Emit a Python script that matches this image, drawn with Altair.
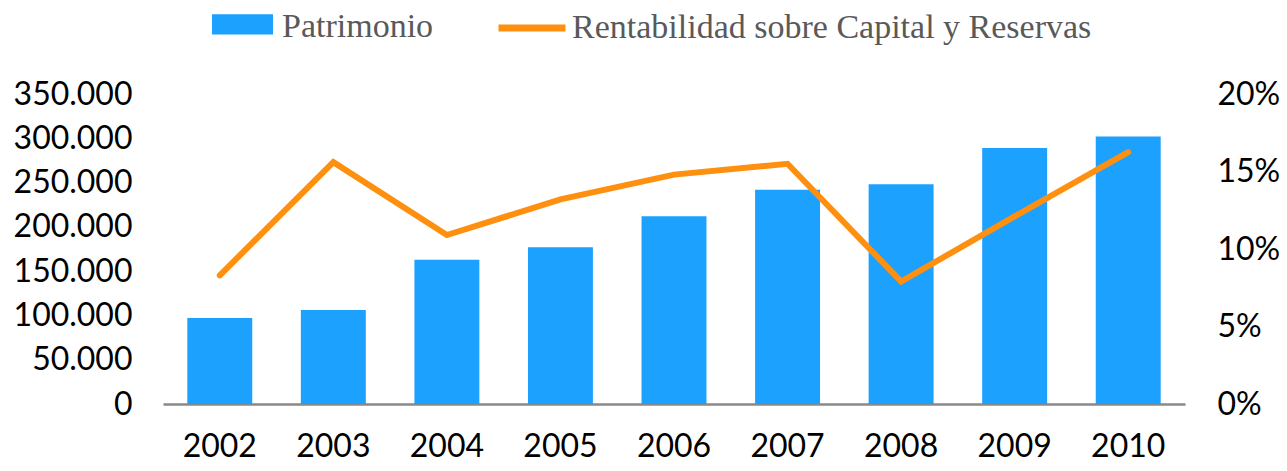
import altair as alt
import pandas as pd

years = ["2002", "2003", "2004", "2005", "2006", "2007", "2008", "2009", "2010"]
patrimonio = [97000, 106000, 163000, 177000, 212000, 242000, 248000, 289000, 302000]
rentabilidad = [0.083, 0.156, 0.109, 0.132, 0.148, 0.155, 0.079, 0.121, 0.1625]
serie_barras = "Patrimonio"
serie_linea = "Rentabilidad sobre Capital y Reservas"
left_ticks = [0, 50000, 100000, 150000, 200000, 250000, 300000, 350000]
right_ticks = [0, 0.05, 0.10, 0.15, 0.20]

df = pd.DataFrame({
    "year": years,
    "patrimonio": patrimonio,
    "rentabilidad": rentabilidad,
    "s1": serie_barras,
    "s2": serie_linea,
})

FONT = "Lato"
LEG_FONT = "Liberation Serif"

base = alt.Chart(df).encode(
    x=alt.X(
        "year:N", sort=years,
        scale=alt.Scale(paddingInner=0.428, paddingOuter=0.214),
        axis=alt.Axis(title=None, labelAngle=0, ticks=False, domainColor="#898989",
                      domainWidth=2.5, labelFont=FONT, labelFontSize=32, labelColor="#000000",
                      labelPadding=59, labelBaseline="bottom", labelFlush=False),
    )
)

bars = base.mark_bar().encode(
    y=alt.Y(
        "patrimonio:Q",
        scale=alt.Scale(domain=[0, 350000], nice=False),
        axis=alt.Axis(title=None, values=left_ticks, ticks=False, domain=False, grid=False,
                      labelExpr="replace(format(datum.value, ','), ',', '.')",
                      labelFont=FONT, labelFontSize=32, labelColor="#000000", labelPadding=31),
    ),
    fill=alt.Fill(
        "s1:N",
        scale=alt.Scale(domain=[serie_barras], range=["#1DA1FF"]),
        legend=alt.Legend(title=None, orient="none", legendX=49, legendY=-98, padding=0,
                          symbolType="M-1,-0.40H1V0.26H-1Z", symbolSize=3721,
                          symbolStrokeWidth=0, labelFont=LEG_FONT, labelFontSize=34,
                          labelColor="#595959", labelOffset=9, labelLimit=800),
    ),
)

line = base.mark_line(strokeWidth=6, strokeCap="round").encode(
    y=alt.Y(
        "rentabilidad:Q",
        scale=alt.Scale(domain=[0, 0.2], nice=False),
        axis=alt.Axis(title=None, orient="right", values=right_ticks, format=".0%", ticks=False,
                      domain=False, grid=False, labelFont=FONT, labelFontSize=32,
                      labelColor="#000000", labelPadding=32),
    ),
    stroke=alt.Stroke(
        "s2:N",
        scale=alt.Scale(domain=[serie_linea], range=["#FF8F0F"]),
        legend=alt.Legend(title=None, orient="none", legendX=332, legendY=-103, padding=0,
                          symbolType="stroke", symbolSize=4489, symbolStrokeWidth=7,
                          labelFont=LEG_FONT, labelFontSize=34, labelColor="#595959",
                          labelOffset=3, labelLimit=800),
    ),
)

chart = alt.layer(bars, line).resolve_scale(y="independent").properties(
    width=1022, height=310,
    padding={"left": 155, "top": 86, "right": 94, "bottom": 59},
    autosize=alt.AutoSizeParams(type="none"),
    background="white",
).configure_view(stroke=None)

chart.save("out.html", embed_options={"renderer": "svg", "actions": False})
